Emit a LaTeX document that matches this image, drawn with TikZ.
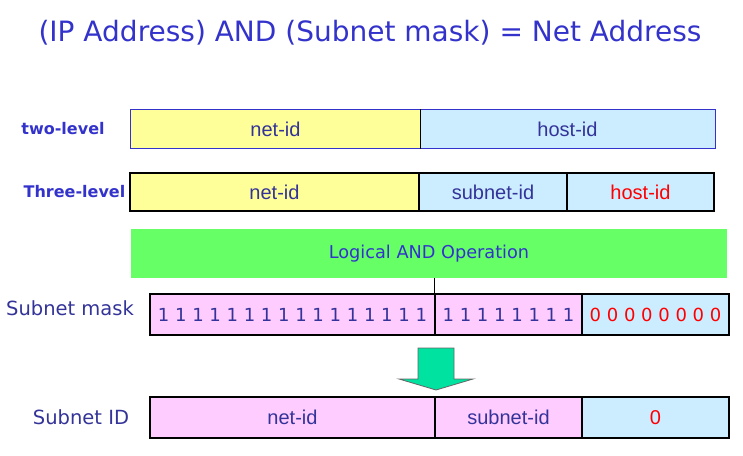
\documentclass[tikz,border=0pt]{standalone}
\usepackage{fontspec}
\setmainfont{Liberation Sans}
\newfontfamily\comic{DejaVu Sans}
\definecolor{ylw}{HTML}{FFFF99}
\definecolor{lblue}{HTML}{CCECFF}
\definecolor{grn}{HTML}{66FF66}
\definecolor{pnk}{HTML}{FFCCFF}
\definecolor{txtblue}{HTML}{333399}
\definecolor{ttlblue}{HTML}{3333CC}
\definecolor{arrowgrn}{HTML}{00E3A0}
\begin{document}
\begin{tikzpicture}[x=1pt,y=-1pt,
  cell/.style={draw=black,line width=1.2pt,inner sep=0pt,text=txtblue,font=\fontsize{20}{24}\selectfont},
  bits/.style={font=\comic\fontsize{18}{21}\selectfont},
  lbl/.style={text=txtblue,font=\comic\fontsize{19.5}{23}\selectfont},
  blbl/.style={text=ttlblue,font=\comic\bfseries\fontsize{16}{19}\selectfont}]
\path[use as bounding box] (0,0) rectangle (743,455);
\node[text=ttlblue,font=\comic\fontsize{28}{33}\selectfont] (title) at (370,33) {(IP Address) AND (Subnet mask) = Net Address};
% two-level
\node[blbl] (l1) at (63,129) {two-level};
\node[cell,draw=none,fill=ylw,minimum width=289pt,minimum height=38pt] (a1) at (275.5,129) {net-id};
\node[cell,draw=none,fill=lblue,minimum width=295pt,minimum height=38pt] (a2) at (567.5,129) {host-id};
\draw[line width=1.2pt,ttlblue] (a1.north west) rectangle (a2.south east);
\draw[line width=1.2pt] (a1.north east) -- (a1.south east);
% three-level
\node[blbl] (l2) at (74.5,192) {Three-level};
\node[cell,fill=ylw,minimum width=289pt,minimum height=38pt] (b1) at (274.5,192) {net-id};
\node[cell,fill=lblue,minimum width=148pt,minimum height=38pt] (b2) at (493,192) {subnet-id};
\node[cell,fill=lblue,text=red,minimum width=147pt,minimum height=38pt] (b3) at (640.5,192) {host-id};
% green bar
\node[fill=grn,inner sep=0pt,minimum width=596pt,minimum height=49pt,text=ttlblue,font=\comic\fontsize{17.7}{21}\selectfont] (g) at (429,253.5) {Logical AND Operation};
% subnet mask
\node[lbl] (l3) at (70,308) {Subnet mask};
\node[cell,bits,fill=pnk,minimum width=285pt,minimum height=41pt] (m1) at (292.5,314.5) {1 1 1 1 1 1 1 1 1 1 1 1 1 1 1 1};
\node[cell,bits,fill=pnk,minimum width=147pt,minimum height=41pt] (m2) at (508.5,314.5) {1 1 1 1 1 1 1 1};
\node[cell,bits,fill=lblue,text=red,minimum width=147pt,minimum height=41pt] (m3) at (655.5,314.5) {0 0 0 0 0 0 0 0};
\draw[line width=1.2pt] (g.south -| m2.north west) -- (m2.north west);
% arrow
\draw[fill=arrowgrn,draw=gray!80!black,line width=0.8pt] (418,348) -- (454,348) -- (454,379) -- (473,379) -- (436,390) -- (399,379) -- (418,379) -- cycle;
% subnet ID
\node[lbl] (l4) at (81,417) {Subnet ID};
\node[cell,fill=pnk,minimum width=285pt,minimum height=41pt] (s1) at (292.5,417.5) {net-id};
\node[cell,fill=pnk,minimum width=147pt,minimum height=41pt] (s2) at (508.5,417.5) {subnet-id};
\node[cell,fill=lblue,text=red,minimum width=147pt,minimum height=41pt] (s3) at (655.5,417.5) {0};
\end{tikzpicture}
\end{document}
